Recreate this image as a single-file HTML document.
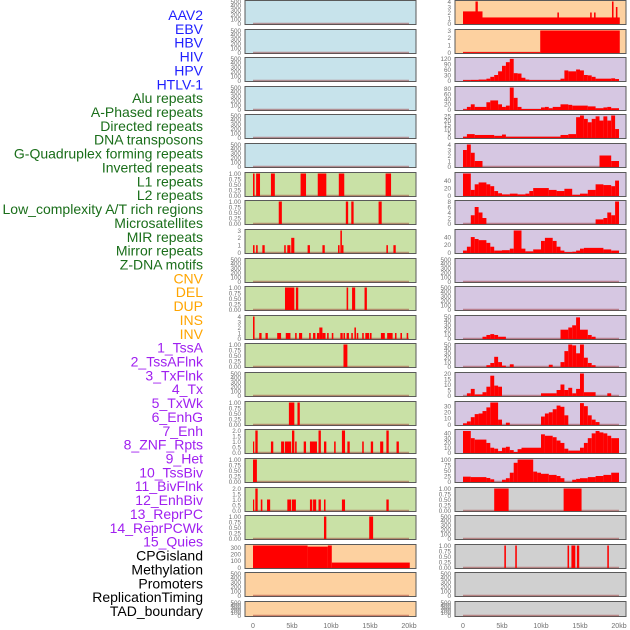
<!DOCTYPE html>
<html><head><meta charset="utf-8">
<style>
html,body{margin:0;padding:0;background:#fff;}
svg{display:block;font-family:"Liberation Sans",sans-serif;}
</style></head>
<body>
<svg id="chart" width="630" height="630" viewBox="0 0 630 630"></svg>
<script>
// ---- labels ----
const labelTexts = ["AAV2","EBV","HBV","HIV","HPV","HTLV-1","Alu repeats","A-Phased repeats","Directed repeats","DNA transposons","G-Quadruplex forming repeats","Inverted repeats","L1 repeats","L2 repeats","Low_complexity A/T rich regions","Microsatellites","MIR repeats","Mirror repeats","Z-DNA motifs","CNV","DEL","DUP","INS","INV","1_TssA","2_TssAFlnk","3_TxFlnk","4_Tx","5_TxWk","6_EnhG","7_Enh","8_ZNF_Rpts","9_Het","10_TssBiv","11_BivFlnk","12_EnhBiv","13_ReprPC","14_ReprPCWk","15_Quies","CPGisland","Methylation","Promoters","ReplicationTiming","TAD_boundary"];
const labelGroups = [6,13,5,15,5];
const groupColors = ["#1f1fff","#1a6e1a","#ffa500","#a020f0","#000000"];

// ---- x axis ----
const xTicks = [0,5,10,15,20];
const xTickLabels = ["0","5kb","10kb","15kb","20kb"];

// ---- left column panels: bg, ticks, ymax, segments [startKb,endKb,value] ----
const T500 = [0,100,200,300,400,500];
const T1 = [0,0.25,0.5,0.75,1];
const leftBg = ["b","b","b","b","b","b","g","g","g","g","g","g","g","g","g","g","g","g","g","o","o","o"];
const leftTicks = [T500,T500,T500,T500,T500,T500,T1,T1,[0,1,2,3],T500,T1,[0,1,2,3,4],T1,T500,T1,[0,0.5,1,1.5,2],T1,[0,0.5,1,1.5,2],T1,[0,100,200,300],T500,T500];
const leftMax = [500,500,500,500,500,500,1,1,3,500,1,4,1,500,1,2,1,2,1,335,500,500];
const left6 = [[0,0.2,1],[0.4,0.9,1],[2.3,2.8,1],[6.1,6.8,1],[8.3,9.4,1],[11,11.7,1],[17,17.7,1]];
const left7 = [[3.3,3.7,1],[11.9,12.2,1],[12.6,12.9,1],[16.1,16.5,1]];
const left8 = [[0,0.2,1],[0.4,0.6,1],[1.2,1.5,1],[4,4.2,1],[4.4,4.8,1],[4.9,5.3,2],[7,7.3,1],[8.9,9.2,1],[10.9,11.1,1],[11.2,11.4,3],[11.4,11.6,1],[17.1,17.3,1],[18,18.3,1]];
const left10 = [[4.1,5.3,1],[5.5,5.8,1],[12,12.2,1],[12.7,13.1,1],[14.3,14.6,1]];
const left11 = [[0,0.2,4],[0.8,1.1,1],[1.6,1.9,1],[3.1,3.6,1],[4.2,4.8,1],[5.4,5.6,1],[5.9,6.3,1],[7.2,7.4,1],[7.7,8,1],[8.2,8.5,1],[8.5,8.9,2],[8.9,9.3,1],[9.5,9.7,1],[10.1,10.3,1],[11.2,11.5,1],[11.6,11.8,1],[12,12.3,1],[12.6,12.8,1],[13,13.2,2],[13.3,13.5,1],[14,14.2,1],[14.4,14.9,1],[15,15.2,1],[16.4,16.9,1],[17.2,17.9,1],[18.2,18.4,1],[18.9,19.1,1],[19.7,19.9,1]];
const left12 = [[11.6,12.1,1]];
const left14 = [[4.6,5.3,1],[5.7,6,1]];
const left15 = [[0,0.1,1],[0.3,0.6,2],[2.3,2.6,1],[3.6,4,1],[4.1,4.9,1],[5,5.3,2],[5.4,5.6,1],[6.5,6.8,1],[7.3,8.2,1],[8.4,8.7,2],[9.1,9.4,1],[10.4,10.6,1],[11.4,11.8,2],[12.1,12.4,1],[14,14.2,1],[15.1,15.4,1],[16.3,16.7,1],[17.1,17.4,2],[18.4,18.7,1]];
const left16 = [[0,0.5,1]];
const left17 = [[0,0.1,1],[0.3,0.6,2],[1,1.2,1],[1.8,2.2,1],[4.4,4.9,1],[5,5.5,1],[7.3,7.6,1],[7.7,8.1,1],[8.4,8.7,1],[9.1,9.3,1],[11.4,11.8,1],[17.1,17.4,1]];
const left18 = [[9.1,9.4,1],[14.9,15.4,1]];
const left19 = [[0,7,335],[7,9.6,318],[9.6,10.1,335],[10.1,20.1,75]];
const leftSegs = [[],[],[],[],[],[],left6,left7,left8,[],left10,left11,left12,[],left14,left15,left16,left17,left18,left19,[],[]];

// ---- right column panels ----
const rightBg = ["o","o","p","p","p","p","p","p","p","p","p","p","p","p","p","p","p","y","y","y","y","y"];
const rightTicks = [[0,1,2,3,4],[0,1,2,3],[0,30,60,90,120],[0,20,40,60,80],[0,5,10,15,20,25],[0,1,2,3,4],[0,20,40],[0,2,4,6,8],[0,20,40],T500,T500,[0,10,20,30,40,50],[0,10,20,30,40,50],[0,5,10,15,20],[0,10,20,30],[0,10,20,30,40],[0,25,50,75,100],T1,T500,T1,T500,T500];
const rightMax = [4,3,120,85,26,4,59,8,57,500,500,50,50,20,36,46,100,1,500,1,500,500];
const right0 = [[0,2.5,2.2],[1.6,1.9,4],[2.5,20.1,1.1],[12.1,12.3,2],[16.3,16.5,2],[16.8,17,2],[19.1,19.3,4],[19.6,19.8,3]];
const right1 = [[0,9.9,0.05],[9.9,20.1,3]];
const right2 = [[0,1,2],[1,2,3],[2,3,5],[3,3.5,10],[3.5,4,20],[4,4.5,30],[4.5,5,50],[5,5.5,80],[5.5,6,100],[6,6.5,118],[6.5,7,40],[7,7.5,38],[7.5,8,15],[8,8.5,5],[8.5,12.5,2],[12.5,13,10],[13,13.5,55],[13.5,14.5,50],[14.5,15,60],[15,15.5,55],[15.5,16,30],[16,16.5,28],[16.5,17,20],[17,19,10],[19,19.5,12],[19.5,20,8]];
const right3 = [[0,0.5,1],[0.5,1,10],[1,1.5,20],[1.5,3,10],[3,3.5,28],[3.5,4.5,35],[4.5,5,20],[5,5.5,10],[5.5,6,15],[6,6.5,85],[6.5,7,45],[7,7.5,10],[7.5,10,2],[10,10.5,8],[10.5,11,10],[11,11.5,5],[11.5,12.5,10],[12.5,13.5,20],[13.5,14,18],[14,16,15],[16,17,12],[17,18,5],[18,18.5,8],[18.5,19,10],[19,20,5]];
const right4 = [[0,0.5,1],[0.5,1.5,4],[1.5,4,3],[4,5,2],[5,5.5,3.5],[5.5,12.5,1],[12.5,13.5,3],[13.5,14.5,4],[14.5,15,24],[15,15.5,26],[15.5,16,22],[16,16.5,18],[16.5,17,22],[17,17.5,25],[17.5,18,20],[18,18.5,25],[18.5,19,20],[19,19.5,26],[19.5,20,10]];
const right5 = [[0,0.5,3],[0.5,1,4],[1,1.5,2.5],[1.5,2.5,1],[17.5,19,2],[19,20,1]];
const right6 = [[0,1,59],[1,1.5,15],[1.5,2,30],[2,3,35],[3,3.5,30],[3.5,4,25],[4,4.5,12],[4.5,5,6],[5,6,3],[6,7,5],[7,8,3],[8,8.5,5],[8.5,9,12],[9,11,20],[11,12,15],[12,13,12],[13,14,18],[14,15,2],[15,16,5],[16,17,15],[17,18,30],[18,19,28],[19,19.5,25],[19.5,20,40]];
const right7 = [[1,1.5,3],[1.5,2,6],[2,2.5,4],[2.5,3,2],[17,18,1.5],[18,18.5,2],[18.5,19,4],[19,19.5,3],[19.5,20,8]];
const right8 = [[0,0.5,5],[0.5,1,15],[1,1.5,40],[1.5,2,35],[2,3,32],[3,3.5,25],[3.5,4,15],[4,5,5],[5,6,6],[6,6.5,10],[6.5,7.5,57],[7.5,8,10],[8,9,3],[9,10,8],[10,10.5,30],[10.5,11.5,38],[11.5,12,30],[12,12.5,15],[12.5,13,5],[13,14,1],[14,14.5,2],[14.5,15,5],[15,15.5,10],[15.5,18,12],[18,19,8],[19,20,5]];
const right11 = [[2.5,3,4],[3,3.5,8],[3.5,4,10],[4,4.5,8],[4.5,5.5,4],[12.5,13.5,20],[13.5,14,25],[14,14.5,30],[14.5,15,48],[15,16,20],[16,16.5,8],[16.5,17,4]];
const right12 = [[3,3.5,3],[3.5,4,8],[4,4.5,22],[4.5,5,10],[5,5.5,2],[6,6.5,5],[11,11.5,4],[12.5,13,10],[13,13.5,35],[13.5,14,50],[14,14.5,48],[14.5,15,30],[15,15.5,50],[15.5,16,20],[16,16.5,8],[16.5,17,3]];
const right13 = [[0.5,1,2],[1,1.5,6],[1.5,2.5,1],[2.5,3,3],[3,3.5,8],[3.5,4,18],[4,4.5,9],[4.5,5,8],[10,12,2],[12,12.5,5],[12.5,13,10],[13,13.5,5],[13.5,14,7],[14,14.5,2],[14.5,15,6],[15,15.5,20],[15.5,17,3],[18.5,19,2]];
const right14 = [[0,0.5,2],[0.5,1,5],[1,1.5,12],[1.5,2,17],[2,2.5,18],[2.5,3,22],[3,3.5,28],[3.5,4.5,36],[4.5,5,8],[5.5,6,3],[10,10.5,13],[10.5,11,18],[11,11.5,20],[11.5,12,25],[12,12.5,31],[12.5,13,29],[13,13.5,15],[15,15.5,35],[15.5,16,30],[16,16.5,15],[16.5,17,8],[17,17.5,4]];
const right15 = [[0,1,45],[1,1.5,30],[1.5,3,27],[3,3.5,20],[3.5,4,10],[4,4.5,8],[4.5,5,3],[5,5.5,10],[5.5,6,12],[6,6.5,5],[6.5,7,1],[7,7.5,7],[7.5,10,10],[10,10.5,38],[10.5,11.5,35],[11.5,12,32],[12,12.5,25],[12.5,13,20],[13,13.5,8],[13.5,15,4],[15,15.5,10],[15.5,16,20],[16,16.5,30],[16.5,17,40],[17,17.5,45],[17.5,18,42],[18,18.5,40],[18.5,19,35],[19,20,30]];
const right16 = [[0,1,22],[1,3,20],[3,3.5,16],[3.5,4,10],[5,5.5,8],[5.5,6,15],[6,6.5,40],[6.5,7,85],[7,9,100],[9,9.5,45],[9.5,10,40],[10,11,35],[11,12,30],[12,12.5,25],[12.5,13,15],[14,14.5,8],[14.5,15,12],[15,16,15],[16,17,20],[17,18,25],[18,19,30],[19,20,40]];
const right17 = [[4,5.85,1],[12.9,15.2,1]];
const right19 = [[5.3,5.5,1],[6.7,6.9,1],[13.4,13.6,1],[13.9,14.4,1],[14.6,14.9,1],[18.5,18.7,1]];
const rightSegs = [right0,right1,right2,right3,right4,right5,right6,right7,right8,[],[],right11,right12,right13,right14,right15,right16,right17,[],right19,[],[]];

const bgColors = {b:"#c7e3eb",g:"#c9e1a6",o:"#fdd1a0",p:"#d6c7e2",y:"#d0d0d0"};
const NS = "http://www.w3.org/2000/svg";
const svg = document.getElementById("chart");
function mk(tag, attrs, parent){
  const e = document.createElementNS(NS, tag);
  for (const k in attrs) e.setAttribute(k, attrs[k]);
  (parent||svg).appendChild(e);
  return e;
}
// labels
let gi = 0, cnt = 0;
labelTexts.forEach((t, i) => {
  while (cnt >= labelGroups[gi]) { cnt = 0; gi++; }
  cnt++;
  const el = mk("text", {x:203, y:(15 + i*13.86 + 5).toFixed(1), "text-anchor":"end", "font-size":"14", fill:groupColors[gi]});
  el.textContent = t;
  
  
});

function panelTop(i){ return Math.round(i*28.62); }
function panelH(i){ return i === 21 ? 16 : 25; }

function drawPanel(col, i, bg, ticks, ymax, segs){
  const px = col === 0 ? 245 : 455;
  const x0 = col === 0 ? 253 : 463;
  const xs = kb => x0 + kb*7.8;
  const top = panelTop(i), h = panelH(i);
  const bottom = top + h - 1.5;
  const ys = v => bottom - (v/ymax)*(h - 3);
  const g = mk("g", {});
  
  
  const r = mk("rect", {x:px, y:top+0.5, width:171, height:h-1, fill:bgColors[bg], stroke:"#5a5a5a", "stroke-width":"1"}, g);
  
  
  // baseline
  const bl = mk("line", {x1:xs(0), x2:xs(20), y1:bottom, y2:bottom, stroke:"rgba(150,40,40,0.45)", "stroke-width":"1.5"}, g);
  
  
  segs.forEach(s => {
    const y = Math.max(ys(s[2]), top+1);
    const b = mk("rect", {x:xs(s[0]).toFixed(2), y:y.toFixed(2), width:Math.max(xs(s[1])-xs(s[0]),1.2).toFixed(2), height:(bottom - y + 0.5).toFixed(2), fill:"#ff0000"}, g);
    
    
  });
  ticks.forEach(v => {
    const lbl = ymax <= 1 ? v.toFixed(2) : (ymax <= 2 && ticks.length === 5 ? v.toFixed(1) : String(v));
    const t = mk("text", {x:px-4, y:(ys(v)+2.3).toFixed(2), "text-anchor":"end", "font-size":"6.3", fill:"#707070"}, g);
    t.textContent = lbl;
    
    
  });
}
for (let i=0;i<22;i++){
  drawPanel(0, i, leftBg[i], leftTicks[i], leftMax[i], leftSegs[i]);
  drawPanel(1, i, rightBg[i], rightTicks[i], rightMax[i], rightSegs[i]);
}
// x axes
[253,463].forEach((x0, c) => {
  xTicks.forEach((k, j) => {
    const t = mk("text", {x:x0 + k*7.8, y:628, "text-anchor":"middle", "font-size":"7", fill:"#707070"});
    t.textContent = xTickLabels[j];
    
    
  });
});
</script>
</body></html>
